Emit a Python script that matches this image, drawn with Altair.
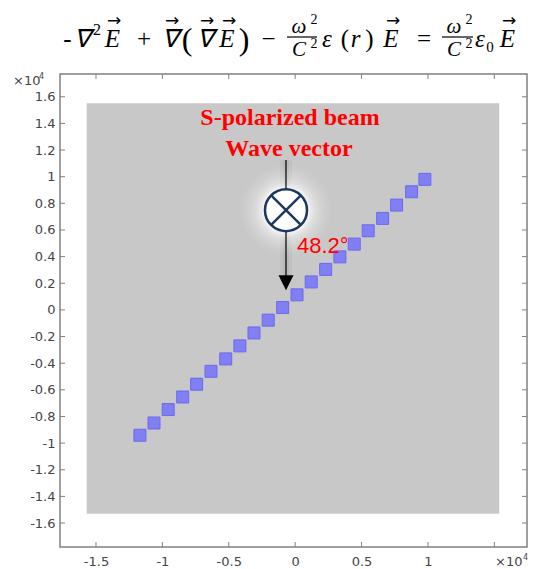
import altair as alt
import pandas as pd

# ---- data (coordinates in units of 1e4) ----
sq_x = [-1.169, -1.063, -0.956, -0.847, -0.742, -0.634, -0.523, -0.416, -0.310, -0.203,
        -0.094, 0.014, 0.121, 0.230, 0.337, 0.445, 0.550, 0.659, 0.764, 0.877, 0.977]
sq_y = [-0.941, -0.849, -0.748, -0.654, -0.558, -0.461, -0.368, -0.270, -0.173, -0.077,
        0.018, 0.113, 0.210, 0.304, 0.398, 0.494, 0.594, 0.687, 0.787, 0.887, 0.980]
rect_x = [-1.570]
rect_x2 = [1.537]
rect_y = [-1.530]
rect_y2 = [1.551]
x_ticks = [-1.5, -1.0, -0.5, 0.0, 0.5, 1.0, 1.5]
y_ticks = [-1.6, -1.4, -1.2, -1.0, -0.8, -0.6, -0.4, -0.2, 0.0,
           0.2, 0.4, 0.6, 0.8, 1.0, 1.2, 1.4, 1.6]
x_dom = [-1.771, 1.746]
y_dom = [-1.780, 1.771]
beam_x = [-0.069]
beam_top = [1.125]
beam_line_end = [0.25]
beam_circle_y = [0.749]
beam_head_y = [0.204]

W, H = 467, 473
PL, PT = 60, 74

xs = alt.Scale(domain=x_dom, nice=False, zero=False)
ys = alt.Scale(domain=y_dom, nice=False, zero=False)
lab_font = "DejaVu Sans"
lab_color = "#444444"
x_axis = alt.Axis(values=x_ticks, labelExpr="datum.value > 1.4 ? '' : '' + round(datum.value * 10) / 10",
                  ticks=False, domain=False, grid=False, labelFont=lab_font, labelFontSize=13,
                  labelColor=lab_color, labelPadding=8, title=None, labelFlush=False, labelOverlap=False)
y_axis = alt.Axis(values=y_ticks, labelExpr="'' + round(datum.value * 10) / 10",
                  ticks=False, domain=False, grid=False, labelFont=lab_font, labelFontSize=13,
                  labelColor=lab_color, labelPadding=5, title=None, labelFlush=False, labelOverlap=False)


def X(f):
    return alt.X(f, type="quantitative", scale=xs, axis=x_axis)


def Y(f):
    return alt.Y(f, type="quantitative", scale=ys, axis=y_axis)


dummy = pd.DataFrame({"a": [1]})

df_rect = pd.DataFrame({"x": rect_x, "x2": rect_x2, "y": rect_y, "y2": rect_y2})
rect = alt.Chart(df_rect).mark_rect(color="#c8c8c8").encode(x=X("x"), x2="x2", y=Y("y"), y2="y2")

df_sq = pd.DataFrame({"x": sq_x, "y": sq_y})
squares = alt.Chart(df_sq).mark_square(size=144, fill="#8080f4", stroke="#6a6aee",
                                        strokeWidth=1, opacity=1).encode(x=X("x"), y=Y("y"))

df_beam = pd.DataFrame({"x": beam_x, "top": beam_top, "end": beam_line_end,
                        "cy": beam_circle_y, "hy": beam_head_y})
shadow1 = alt.Chart(df_beam).mark_rule(color="black", strokeWidth=12, opacity=0.035).encode(
    x=X("x"), y=Y("top"), y2="end")
shadow2 = alt.Chart(df_beam).mark_rule(color="black", strokeWidth=6, opacity=0.04).encode(
    x=X("x"), y=Y("top"), y2="end")
line = alt.Chart(df_beam).mark_rule(color="black", strokeWidth=1.2).encode(x=X("x"), y=Y("top"), y2="end")
head = alt.Chart(df_beam).mark_point(shape="M-1,-1L1,-1L0,1Z", filled=True, color="black",
                                     size=225, opacity=1).encode(x=X("x"), y=Y("hy"))
glows = []
for d, op in [(90, 0.05), (84, 0.06), (78, 0.07), (72, 0.09), (66, 0.12), (60, 0.16), (54, 0.25), (49, 0.4)]:
    glows.append(alt.Chart(df_beam).mark_point(shape="circle", filled=True, color="white",
                                               size=d * d, opacity=op, strokeWidth=0).encode(x=X("x"), y=Y("cy")))
circle = alt.Chart(df_beam).mark_point(shape="circle", filled=True, fill="white", stroke="#1d3761",
                                       strokeWidth=2.5, size=1764, opacity=1).encode(x=X("x"), y=Y("cy"))
cross = alt.Chart(df_beam).mark_point(shape="M-0.7071,-0.7071L0.7071,0.7071M-0.7071,0.7071L0.7071,-0.7071",
                                      filled=False, stroke="#1d3761", strokeWidth=2.5, size=1764,
                                      opacity=1).encode(x=X("x"), y=Y("cy"))


def txt(s, x, y, size, font="Liberation Serif", style="normal", weight="normal", color="black",
        align="center", baseline="alphabetic"):
    return alt.Chart(dummy).mark_text(text=s, fontSize=size, font=font, fontStyle=style,
                                      fontWeight=weight, color=color, align=align,
                                      baseline=baseline).encode(x=alt.value(x - PL), y=alt.value(y - PT))


def prule(x1, x2, y, w=1.2):
    return alt.Chart(dummy).mark_rule(color="black", strokeWidth=w).encode(
        x=alt.value(x1 - PL), x2=alt.value(x2 - PL), y=alt.value(y - PT))


# inward ticks on all four sides
df_xt = pd.DataFrame({"t": x_ticks})
df_yt = pd.DataFrame({"t": y_ticks})
tick_c = "#808080"
ticks = [
    alt.Chart(df_xt).mark_rule(color=tick_c, strokeWidth=1).encode(x=X("t"), y=alt.value(H), y2=alt.value(H - 5)),
    alt.Chart(df_xt).mark_rule(color=tick_c, strokeWidth=1).encode(x=X("t"), y=alt.value(0), y2=alt.value(5)),
    alt.Chart(df_yt).mark_rule(color=tick_c, strokeWidth=1).encode(y=Y("t"), x=alt.value(0), x2=alt.value(5)),
    alt.Chart(df_yt).mark_rule(color=tick_c, strokeWidth=1).encode(y=Y("t"), x=alt.value(W), x2=alt.value(W - 5)),
]

# annotations
red = "#ff0000"
ann = [
    txt("S-polarized beam", 290, 125, 24, weight="bold", color=red),
    txt("Wave vector", 289, 156, 24, weight="bold", color=red),
    txt("48.2°", 297, 253, 22, font="Liberation Sans", color=red, align="left"),
    txt("×10", 495, 566, 13, font=lab_font, color=lab_color, align="left"),
    txt("4", 523, 560, 8, font=lab_font, color=lab_color, align="left"),
    txt("×10", 13, 85, 13, font=lab_font, color=lab_color, align="left"),
    txt("4", 39, 79, 8, font=lab_font, color=lab_color, align="left"),
]

# equation above the plot
eq = [
    ("-", 67.5, 47, 25, "normal"),
    ("∇", 82, 47, 25, "italic"),
    ("2", 97, 35, 16, "normal"),
    ("E", 112.5, 47, 25, "italic"),
    ("+", 144, 47, 25, "normal"),
    ("∇", 170, 47, 25, "italic"),
    ("(", 187, 50, 32, "normal"),
    ("∇", 205, 47, 25, "italic"),
    ("E", 227, 47, 25, "italic"),
    (")", 244, 50, 32, "normal"),
    ("−", 268.5, 47, 25, "normal"),
    ("ω", 299, 33, 21, "italic"),
    ("2", 314, 24, 14, "normal"),
    ("C", 299, 56, 21, "italic"),
    ("2", 314, 48, 14, "normal"),
    ("ε", 327, 47, 25, "italic"),
    ("(", 345, 47, 25, "normal"),
    ("r", 355.5, 47, 25, "italic"),
    (")", 369.5, 47, 25, "normal"),
    ("E", 391, 47, 25, "italic"),
    ("=", 424, 47, 25, "normal"),
    ("ω", 454, 33, 21, "italic"),
    ("2", 469, 24, 14, "normal"),
    ("C", 454, 56, 21, "italic"),
    ("2", 469, 48, 14, "normal"),
    ("ε", 480, 47, 25, "italic"),
    ("0", 490, 52, 15, "normal"),
    ("E", 507.5, 47, 25, "italic"),
]
eq_layers = [txt(s, x, y, fs, style=st) for s, x, y, fs, st in eq]
for cx in [114, 172, 207, 229, 393, 509]:
    eq_layers.append(txt("→", cx, 26, 17, font="DejaVu Sans"))
eq_layers.append(prule(287, 317, 37))
eq_layers.append(prule(442, 473, 37))

chart = alt.layer(
    rect, squares, shadow1, shadow2, *glows, line, head, circle, cross, *ticks, *ann, *eq_layers
).properties(
    width=W, height=H,
    autosize=alt.AutoSizeParams(type="none"),
    padding={"left": PL, "top": PT, "right": 533 - PL - W, "bottom": 569 - PT - H},
    background="white",
).configure_view(stroke="#808080", strokeWidth=1.5)

chart.save("out.html", embed_options={"renderer": "svg", "actions": False})
